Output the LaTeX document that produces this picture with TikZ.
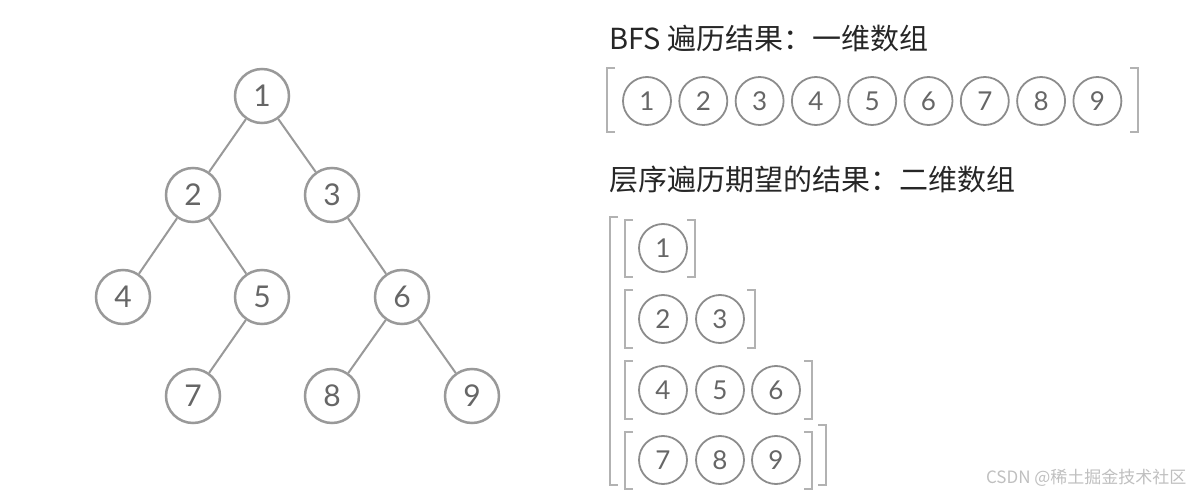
\documentclass[tikz,border=0pt]{standalone}
\usepackage{fontspec}
\setmainfont{Lato}
\newfontfamily\cjk{Noto Sans CJK SC}
\begin{document}
\begin{tikzpicture}[x=1pt,y=-1pt]
\useasboundingbox (0,0) rectangle (1200,500);
\tikzset{
 tn/.style={circle,draw=black!40,line width=2.5pt,minimum size=54pt,inner sep=0pt,text=black!60,font=\fontsize{30}{30}\selectfont,fill=white},
 an/.style={circle,draw=black!45,line width=1.8pt,minimum size=48pt,inner sep=0pt,text=black!60,font=\fontsize{26}{26}\selectfont},
 edge/.style={draw=black!40,line width=2pt},
 br/.style={draw=black!30,line width=1.4pt},
 ttl/.style={anchor=west,text=black!85,font=\cjk\fontsize{29}{29}\selectfont}
}
\node[tn] (t1) at (262,96) {1};
\node[tn] (t2) at (193,195) {2};
\node[tn] (t3) at (332,195) {3};
\node[tn] (t4) at (123,297) {4};
\node[tn] (t5) at (262,297) {5};
\node[tn] (t6) at (402,297) {6};
\node[tn] (t7) at (193,396) {7};
\node[tn] (t8) at (332,396) {8};
\node[tn] (t9) at (472,396) {9};
\foreach \a/\b in {t1/t2,t1/t3,t2/t4,t2/t5,t3/t6,t5/t7,t6/t8,t6/t9} \draw[edge] (\a) -- (\b);

\node[ttl] (h1) at (606,38) {BFS 遍历结果：一维数组};
\foreach \i in {1,...,9} \node[an] (a\i) at ({647+56.3*(\i-1)},101) {\i};
\draw[br] (615,68) -- (607,68) -- (607,132) -- (615,132);
\draw[br] (1130,68) -- (1138,68) -- (1138,132) -- (1130,132);

\node[ttl] (h2) at (606,180) {层序遍历期望的结果：二维数组};
\draw[br] (618,217) -- (610,217) -- (610,485) -- (618,485);
\draw[br] (818,425) -- (826,425) -- (826,485) -- (818,485);
\node[an] (b1) at (663,248) {1};
\draw[br] (633,220) -- (625,220) -- (625,277) -- (633,277);
\draw[br] (687,220) -- (695,220) -- (695,277) -- (687,277);
\node[an] (c2) at (663,319) {2};
\node[an] (c3) at (720,319) {3};
\draw[br] (633,290) -- (625,290) -- (625,348) -- (633,348);
\draw[br] (747,290) -- (755,290) -- (755,348) -- (747,348);
\node[an] (d4) at (663,390) {4};
\node[an] (d5) at (720,390) {5};
\node[an] (d6) at (776,390) {6};
\draw[br] (633,361) -- (625,361) -- (625,419) -- (633,419);
\draw[br] (804,361) -- (812,361) -- (812,419) -- (804,419);
\node[an] (e7) at (663,460) {7};
\node[an] (e8) at (720,460) {8};
\node[an] (e9) at (776,460) {9};
\draw[br] (633,432) -- (625,432) -- (625,489) -- (633,489);
\draw[br] (804,432) -- (812,432) -- (812,489) -- (804,489);

\node[anchor=east,text=black!25,font=\cjk\fontsize{17}{17}\selectfont] (wm) at (1190,478) {CSDN @稀土掘金技术社区};
\end{tikzpicture}
\end{document}
